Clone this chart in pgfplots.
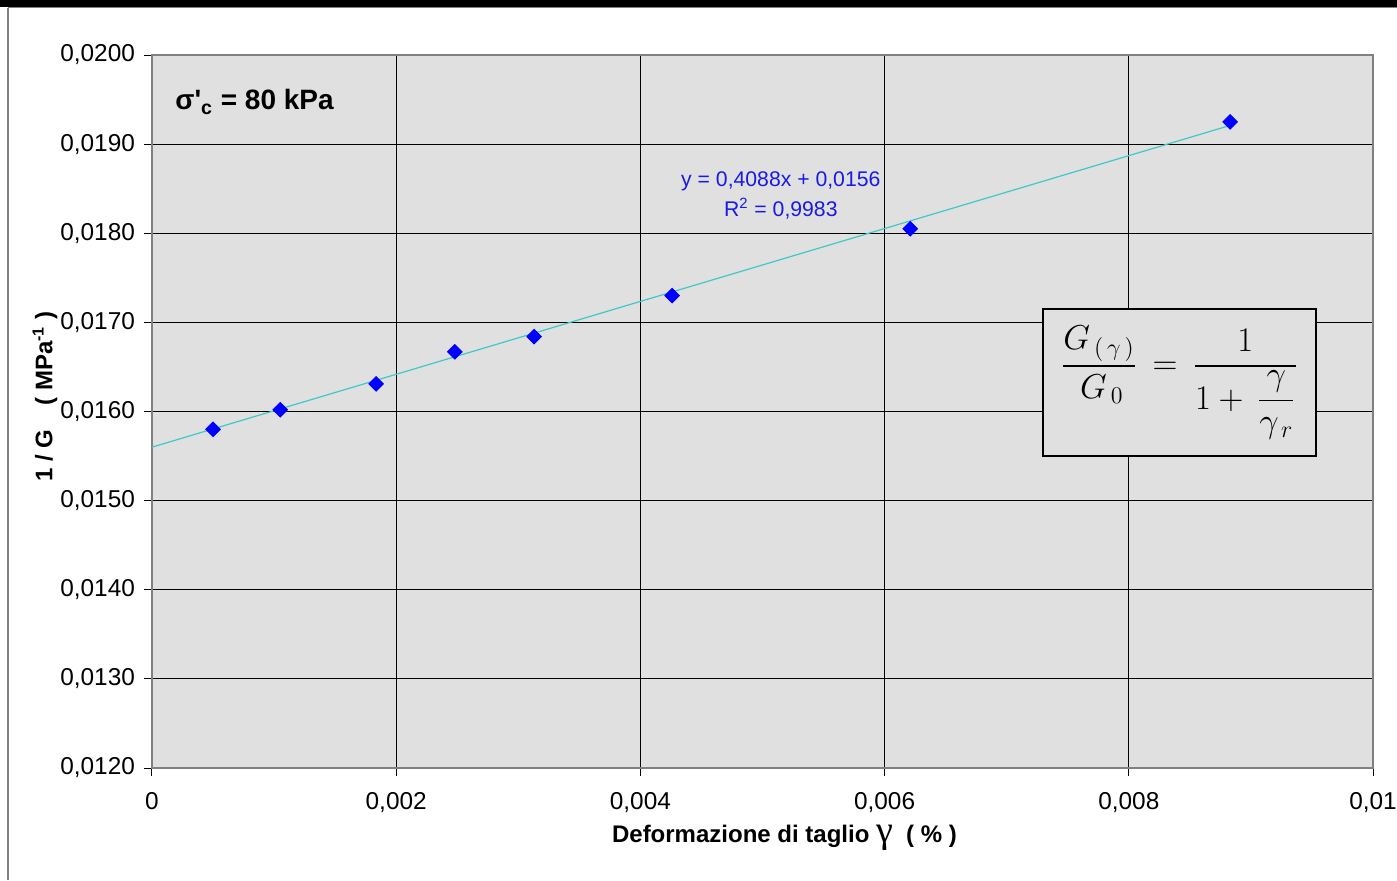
\documentclass[border=0pt]{standalone}
\usepackage{pgfplots}
\pgfplotsset{compat=1.18}
\usepackage{amsmath}
\usepackage{fontspec}
\setmainfont{Liberation Sans}
\newfontfamily\rawsans[Ligatures=ResetAll]{Liberation Sans}
\newfontfamily\serifgr{Liberation Serif}
\definecolor{bg}{RGB}{224,224,224}
\definecolor{bordergray}{RGB}{128,128,128}
\definecolor{trend}{RGB}{64,200,200}
\definecolor{ptblue}{RGB}{0,0,255}
\definecolor{eqblue}{RGB}{26,26,230}
\begin{document}
\begin{tikzpicture}
\path[use as bounding box] (0,0) rectangle (698.5pt,440pt);
\fill[black] (0,436.5pt) rectangle (698.5pt,440pt);
\draw[bordergray,line width=0.6pt] (4pt,436.2pt) -- (698.5pt,436.2pt);
\draw[bordergray,line width=0.6pt] (4pt,436.2pt) -- (4pt,0);
\begin{axis}[
  at={(76pt,56pt)}, anchor=south west,
  scale only axis, width=610.5pt, height=356.5pt,
  xmin=0, xmax=0.01, ymin=0.012, ymax=0.020,
  xtick={0,0.002,0.004,0.006,0.008,0.01},
  xticklabels={0,{0,002},{0,004},{0,006},{0,008},{0,01}},
  ytick={0.012,0.013,0.014,0.015,0.016,0.017,0.018,0.019,0.020},
  yticklabels={{0,0120},{0,0130},{0,0140},{0,0150},{0,0160},{0,0170},{0,0180},{0,0190},{0,0200}},
  scaled ticks=false,
  xtick pos=bottom, ytick pos=left,
  tick align=outside, major tick length=4pt,
  tick style={black, line width=0.5pt},
  ticklabel style={font=\fontsize{12.2}{14}\selectfont},
  xticklabel style={yshift=-4.5pt},
  yticklabel style={xshift=-1pt},
  grid=major, grid style={black, line width=0.5pt},
  axis line style={bordergray, line width=1pt},
  axis background/.style={fill=bg},
  clip=false,
]
\addplot[trend, line width=0.6pt] coordinates {(0,0.0156) (0.00883,0.01921)};
\addplot[only marks, mark=square*, mark size=2.6pt, color=ptblue, mark options={fill=ptblue, draw=ptblue, rotate=45}] coordinates {
  (0.00050,0.01580)
  (0.00105,0.01602)
  (0.001835,0.01631)
  (0.00248,0.01667)
  (0.00313,0.01684)
  (0.00426,0.01730)
  (0.00621,0.01805)
  (0.00883,0.01925)
};
\node[anchor=west, inner sep=0pt, font=\bfseries\fontsize{14}{16}\selectfont] at (axis description cs:0.0188,0.934) {σ{\rawsans\bfseries '}\textsubscript{c} = 80 kPa};
\node[align=center, text=eqblue, font=\fontsize{10.6}{15}\selectfont] at (axis description cs:0.515,0.803) {y = 0,4088x + 0,0156\\R\textsuperscript{2} = 0,9983};
\node[draw=black, line width=1pt, fill=bg, minimum width=136.5pt, minimum height=73.5pt, inner sep=0pt] at (axis description cs:0.8415,0.5407) {};
\node[inner sep=0pt] at (axis description cs:0.8415,0.5407)
  {\fontsize{17}{20}\selectfont$\displaystyle \frac{G_{\,(\,\gamma\,)}}{\,G_{\,0}} \,=\, \frac{1}{1+\,\dfrac{\gamma}{\gamma_{\,r}}}$};
\node[inner sep=1pt, font=\bfseries\fontsize{12}{14}\selectfont] at (axis description cs:0.518,-0.0985) {Deformazione di taglio {\serifgr\mdseries\fontsize{19}{19}\selectfont γ}\ \ ( \% )};
\node[rotate=90, font=\bfseries\fontsize{12}{14}\selectfont] at (axis description cs:-0.0876,0.521) {1 / G\quad( MPa\textsuperscript{-1} )};
\end{axis}
\end{tikzpicture}
\end{document}
